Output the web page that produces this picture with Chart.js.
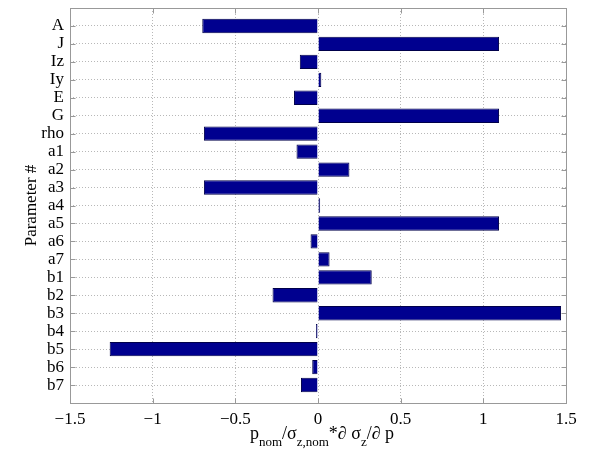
<!DOCTYPE html>
<html>
<head>
<meta charset="utf-8">
<script src="https://cdn.jsdelivr.net/npm/chart.js@4"></script>
<style>
  body { margin: 0; background: #fff; }
  #wrap { width: 593px; height: 451px; }
</style>
</head>
<body>
<div id="wrap"><canvas id="sensChart"></canvas></div>
<script>
const params = ['A', 'J', 'Iz', 'Iy', 'E', 'G', 'rho', 'a1', 'a2', 'a3', 'a4',
  'a5', 'a6', 'a7', 'b1', 'b2', 'b3', 'b4', 'b5', 'b6', 'b7'];
const sensitivity = [-0.70, 1.095, -0.11, 0.02, -0.145, 1.095, -0.69, -0.13, 0.19, -0.69, 0.013,
  1.095, -0.045, 0.07, 0.325, -0.275, 1.47, -0.012, -1.26, -0.035, -0.103];
const xTicks = [-1.5, -1, -0.5, 0, 0.5, 1, 1.5];

const serif = 'Liberation Serif';

// frame box, inner tick marks, axis titles (subscripts need manual drawing)
const extras = {
  id: 'extras',
  afterDraw(chart) {
    const ctx = chart.ctx;
    const a = chart.chartArea;
    const xs = chart.scales.x, ys = chart.scales.y;
    ctx.save();
    ctx.strokeStyle = '#999';
    ctx.lineWidth = 1;
    const L = Math.round(a.left) + 0.5, T = Math.round(a.top) + 0.5;
    const R = Math.round(a.right) + 0.5, B = Math.round(a.bottom) + 0.5;
    ctx.strokeRect(L, T, R - L, B - T);
    ctx.beginPath();
    xTicks.forEach(v => {
      const px = Math.round(xs.getPixelForValue(v)) + 0.5;
      ctx.moveTo(px, B); ctx.lineTo(px, B - 5);
      ctx.moveTo(px, T); ctx.lineTo(px, T + 5);
    });
    params.forEach((p, i) => {
      const py = Math.round(ys.getPixelForValue(i + 1)) + 0.5;
      ctx.moveTo(L, py); ctx.lineTo(L + 5, py);
      ctx.moveTo(R, py); ctx.lineTo(R - 5, py);
    });
    ctx.stroke();

    ctx.fillStyle = '#000';
    // y title
    ctx.font = '17px "' + serif + '"';
    ctx.textAlign = 'center';
    ctx.textBaseline = 'middle';
    ctx.translate(32, (a.top + a.bottom) / 2);
    ctx.rotate(-Math.PI / 2);
    ctx.fillText('Parameter #', 0, 0);
    ctx.setTransform(1, 0, 0, 1, 0, 0);

    // x title
    const parts = [
      ['p', 0], ['nom', 1], ['/\u03c3', 0], ['z,nom', 1], ['*\u2202 \u03c3', 0], ['z', 1], ['/\u2202 p', 0]
    ];
    const big = '18px "' + serif + '"';
    const small = '13px "' + serif + '"';
    let total = 0;
    parts.forEach(p => { ctx.font = p[1] ? small : big; total += ctx.measureText(p[0]).width; });
    let x = (a.left + a.right) / 2 + 4 - total / 2;
    const base = 439;
    ctx.textAlign = 'left';
    ctx.textBaseline = 'alphabetic';
    parts.forEach(p => {
      ctx.font = p[1] ? small : big;
      ctx.fillText(p[0], x, p[1] ? base + 7 : base);
      x += ctx.measureText(p[0]).width;
    });
    ctx.restore();
  }
};

new Chart(document.getElementById('sensChart'), {
  type: 'bar',
  data: {
    datasets: [{
      data: params.map((p, i) => ({ x: sensitivity[i], y: i + 1 })),
      backgroundColor: '#00008f',
      borderColor: '#00004a',
      borderWidth: 1,
      categoryPercentage: 0.8,
      barPercentage: 1
    }]
  },
  options: {
    indexAxis: 'y',
    responsive: true,
    maintainAspectRatio: false,
    animation: false,
    layout: { padding: { top: 8, right: 27, left: 0, bottom: 0 } },
    plugins: { legend: { display: false }, tooltip: { enabled: false } },
    scales: {
      x: {
        type: 'linear',
        min: -1.5,
        max: 1.5,
        afterBuildTicks(scale) { scale.ticks = xTicks.map(v => ({ value: v })); },
        afterFit(scale) { scale.height = 48; },
        grid: { color: '#b8b8b8', drawTicks: false },
        border: { display: false, dash: [1, 2] },
        ticks: {
          padding: 6,
          color: '#000',
          font: { family: serif, size: 17 },
          callback: v => String(v).replace('-', '\u2212')
        }
      },
      y: {
        type: 'linear',
        reverse: true,
        offset: false,
        min: 0,
        max: 22,
        afterBuildTicks(scale) { scale.ticks = params.map((p, i) => ({ value: i + 1 })); },
        afterFit(scale) { scale.width = 70; scale.paddingTop = 0; scale.paddingBottom = 0; },
        grid: { color: '#b8b8b8', drawTicks: false, offset: false },
        border: { display: false, dash: [1, 2] },
        ticks: {
          padding: 6,
          color: '#000',
          autoSkip: false,
          font: { family: serif, size: 17 },
          callback: v => params[v - 1] || ''
        }
      }
    }
  },
  plugins: [extras]
});
</script>
</body>
</html>
